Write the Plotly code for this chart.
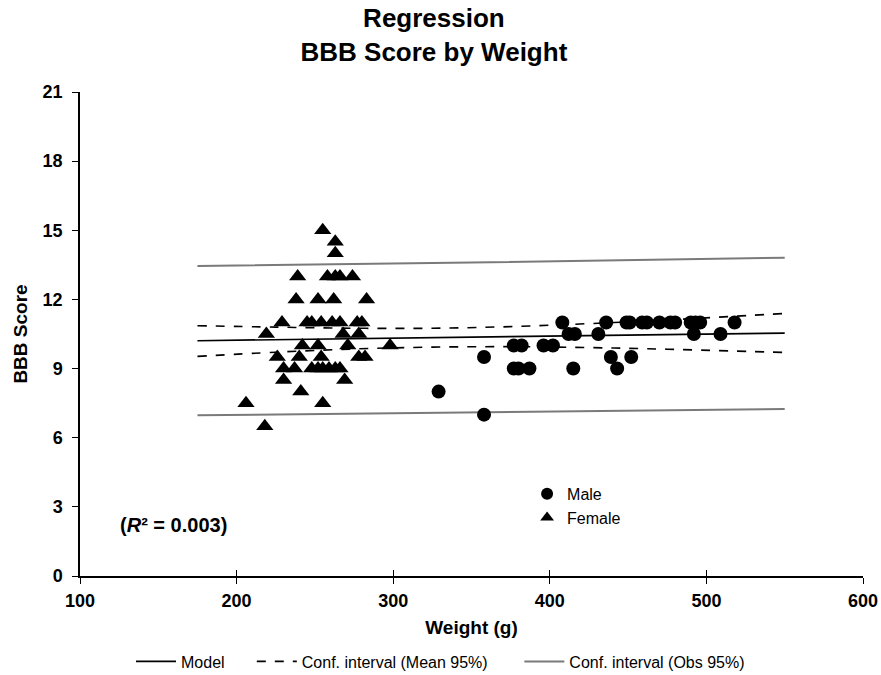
import plotly.graph_objects as go

# ---- data ----
female_weight = [255, 263, 263, 239, 258, 263, 266, 274, 238, 252, 262, 283,
                 229, 245, 248, 254, 261, 266, 277, 280, 219, 268, 278,
                 242, 252, 271, 298, 226, 240, 254, 278, 282,
                 230, 237, 248, 252, 255, 259, 263, 266, 230, 269, 241, 206, 255, 218]
female_bbb = [15, 14.5, 14, 13, 13, 13, 13, 13, 12, 12, 12, 12,
              11, 11, 11, 11, 11, 11, 11, 11, 10.5, 10.5, 10.5,
              10, 10, 10, 10, 9.5, 9.5, 9.5, 9.5, 9.5,
              9, 9, 9, 9, 9, 9, 9, 9, 8.5, 8.5, 8, 7.5, 7.5, 6.5]

male_weight = [408, 436, 449, 451, 459, 462, 470, 477, 480, 490, 493, 496, 518,
               412, 416, 431, 492, 509,
               377, 382, 396, 402,
               358, 439, 452,
               377, 380, 387, 415, 443,
               329, 358]
male_bbb = [11, 11, 11, 11, 11, 11, 11, 11, 11, 11, 11, 11, 11,
            10.5, 10.5, 10.5, 10.5, 10.5,
            10, 10, 10, 10,
            9.5, 9.5, 9.5,
            9, 9, 9, 9, 9,
            8, 7]

model_x = [175, 550]
model_y = [10.21, 10.54]

mean_ci_x = [175, 225, 275, 325, 375, 425, 475, 550]
mean_ci_upper = [10.86, 10.80, 10.75, 10.75, 10.82, 10.95, 11.11, 11.39]
mean_ci_lower = [9.53, 9.71, 9.85, 9.93, 9.95, 9.91, 9.84, 9.70]

obs_ci_x = [175, 350, 550]
obs_ci_upper = [13.45, 13.60, 13.81]
obs_ci_lower = [6.97, 7.10, 7.25]

x_ticks = [100, 200, 300, 400, 500, 600]
y_ticks = [0, 3, 6, 9, 12, 15, 18, 21]

FONT = "Liberation Sans, Arial, sans-serif"
NB = "\u00a0"

fig = go.Figure()

fig.add_trace(go.Scatter(x=model_x, y=model_y, mode="lines", name="Model" + NB * 5,
                         line=dict(color="black", width=1.6), legend="legend"))
fig.add_trace(go.Scatter(x=mean_ci_x, y=mean_ci_upper, mode="lines",
                         name="Conf. interval (Mean 95%)" + NB * 6,
                         line=dict(color="black", width=1.6, dash="dash", shape="spline"),
                         legend="legend"))
fig.add_trace(go.Scatter(x=mean_ci_x, y=mean_ci_lower, mode="lines",
                         name="Conf. interval (Mean 95%)", showlegend=False,
                         line=dict(color="black", width=1.6, dash="dash", shape="spline"),
                         legend="legend"))
fig.add_trace(go.Scatter(x=obs_ci_x, y=obs_ci_upper, mode="lines",
                         name="Conf. interval (Obs 95%)",
                         line=dict(color="#7a7a7a", width=2), legend="legend"))
fig.add_trace(go.Scatter(x=obs_ci_x, y=obs_ci_lower, mode="lines",
                         name="Conf. interval (Obs 95%)", showlegend=False,
                         line=dict(color="#7a7a7a", width=2), legend="legend"))

fig.add_trace(go.Scatter(x=male_weight, y=male_bbb, mode="markers", name="Male",
                         marker=dict(symbol="circle", size=14, color="black"),
                         legend="legend2"))
fig.add_trace(go.Scatter(x=female_weight, y=female_bbb, mode="markers", name="Female",
                         marker=dict(symbol="triangle-up", size=15, color="black"),
                         legend="legend2"))

# invisible overlay axis to draw inward half of crossing x ticks
fig.add_trace(go.Scatter(x=[None], y=[None], xaxis="x2", showlegend=False))

fig.add_annotation(x=124, y=2.2, xref="x", yref="y", xanchor="left", yanchor="middle",
                   text="<b>(<i>R</i>² = 0.003)</b>", showarrow=False,
                   font=dict(family=FONT, size=20, color="black"))

fig.update_layout(
    width=881, height=675,
    margin=dict(l=80, r=18, t=92, b=99, autoexpand=False),
    paper_bgcolor="white", plot_bgcolor="white",
    font=dict(family=FONT, color="black"),
    title=dict(text="<b>Regression<br>BBB Score by Weight</b>",
               xref="paper", x=0.452, xanchor="center",
               yref="container", y=0.96, yanchor="middle",
               font=dict(family=FONT, size=26, color="black")),
    xaxis=dict(range=[100, 600], tickvals=x_ticks, showgrid=False, zeroline=False,
               showline=True, linecolor="black", linewidth=1.5, automargin=False,
               ticks="outside", ticklen=6, tickwidth=1.3, tickcolor="black",
               ticklabelstandoff=2,
               tickfont=dict(family=FONT, size=18, color="black", weight="bold"),
               title=dict(text="<b>Weight (g)</b>", standoff=10,
                          font=dict(family=FONT, size=19, color="black"))),
    xaxis2=dict(range=[100, 600], tickvals=x_ticks, overlaying="x", anchor="y",
                side="bottom", showgrid=False, zeroline=False, showline=False,
                ticks="inside", ticklen=6, tickwidth=1.3, tickcolor="black",
                showticklabels=False),
    yaxis=dict(range=[0, 21], tickvals=y_ticks, showgrid=False, zeroline=False,
               showline=True, linecolor="black", linewidth=1.5, automargin=False,
               ticks="outside", ticklen=6, tickwidth=1.3, tickcolor="black",
               ticklabelstandoff=6,
               tickfont=dict(family=FONT, size=18, color="black", weight="bold"),
               title=dict(text="<b>BBB Score</b>", standoff=10,
                          font=dict(family=FONT, size=19, color="black"))),
    legend=dict(orientation="h", xref="container", yref="container",
                x=0.5, xanchor="center", y=0.02, yanchor="middle",
                font=dict(family=FONT, size=16, color="black"),
                bgcolor="rgba(0,0,0,0)", itemwidth=40, tracegroupgap=0),
    legend2=dict(orientation="v", x=0.571, xanchor="left", y=0.205, yanchor="top",
                 font=dict(family=FONT, size=16, color="black"),
                 bgcolor="rgba(0,0,0,0)", tracegroupgap=0, itemsizing="constant",
                 itemwidth=30),
)

fig.write_html("out.html")
